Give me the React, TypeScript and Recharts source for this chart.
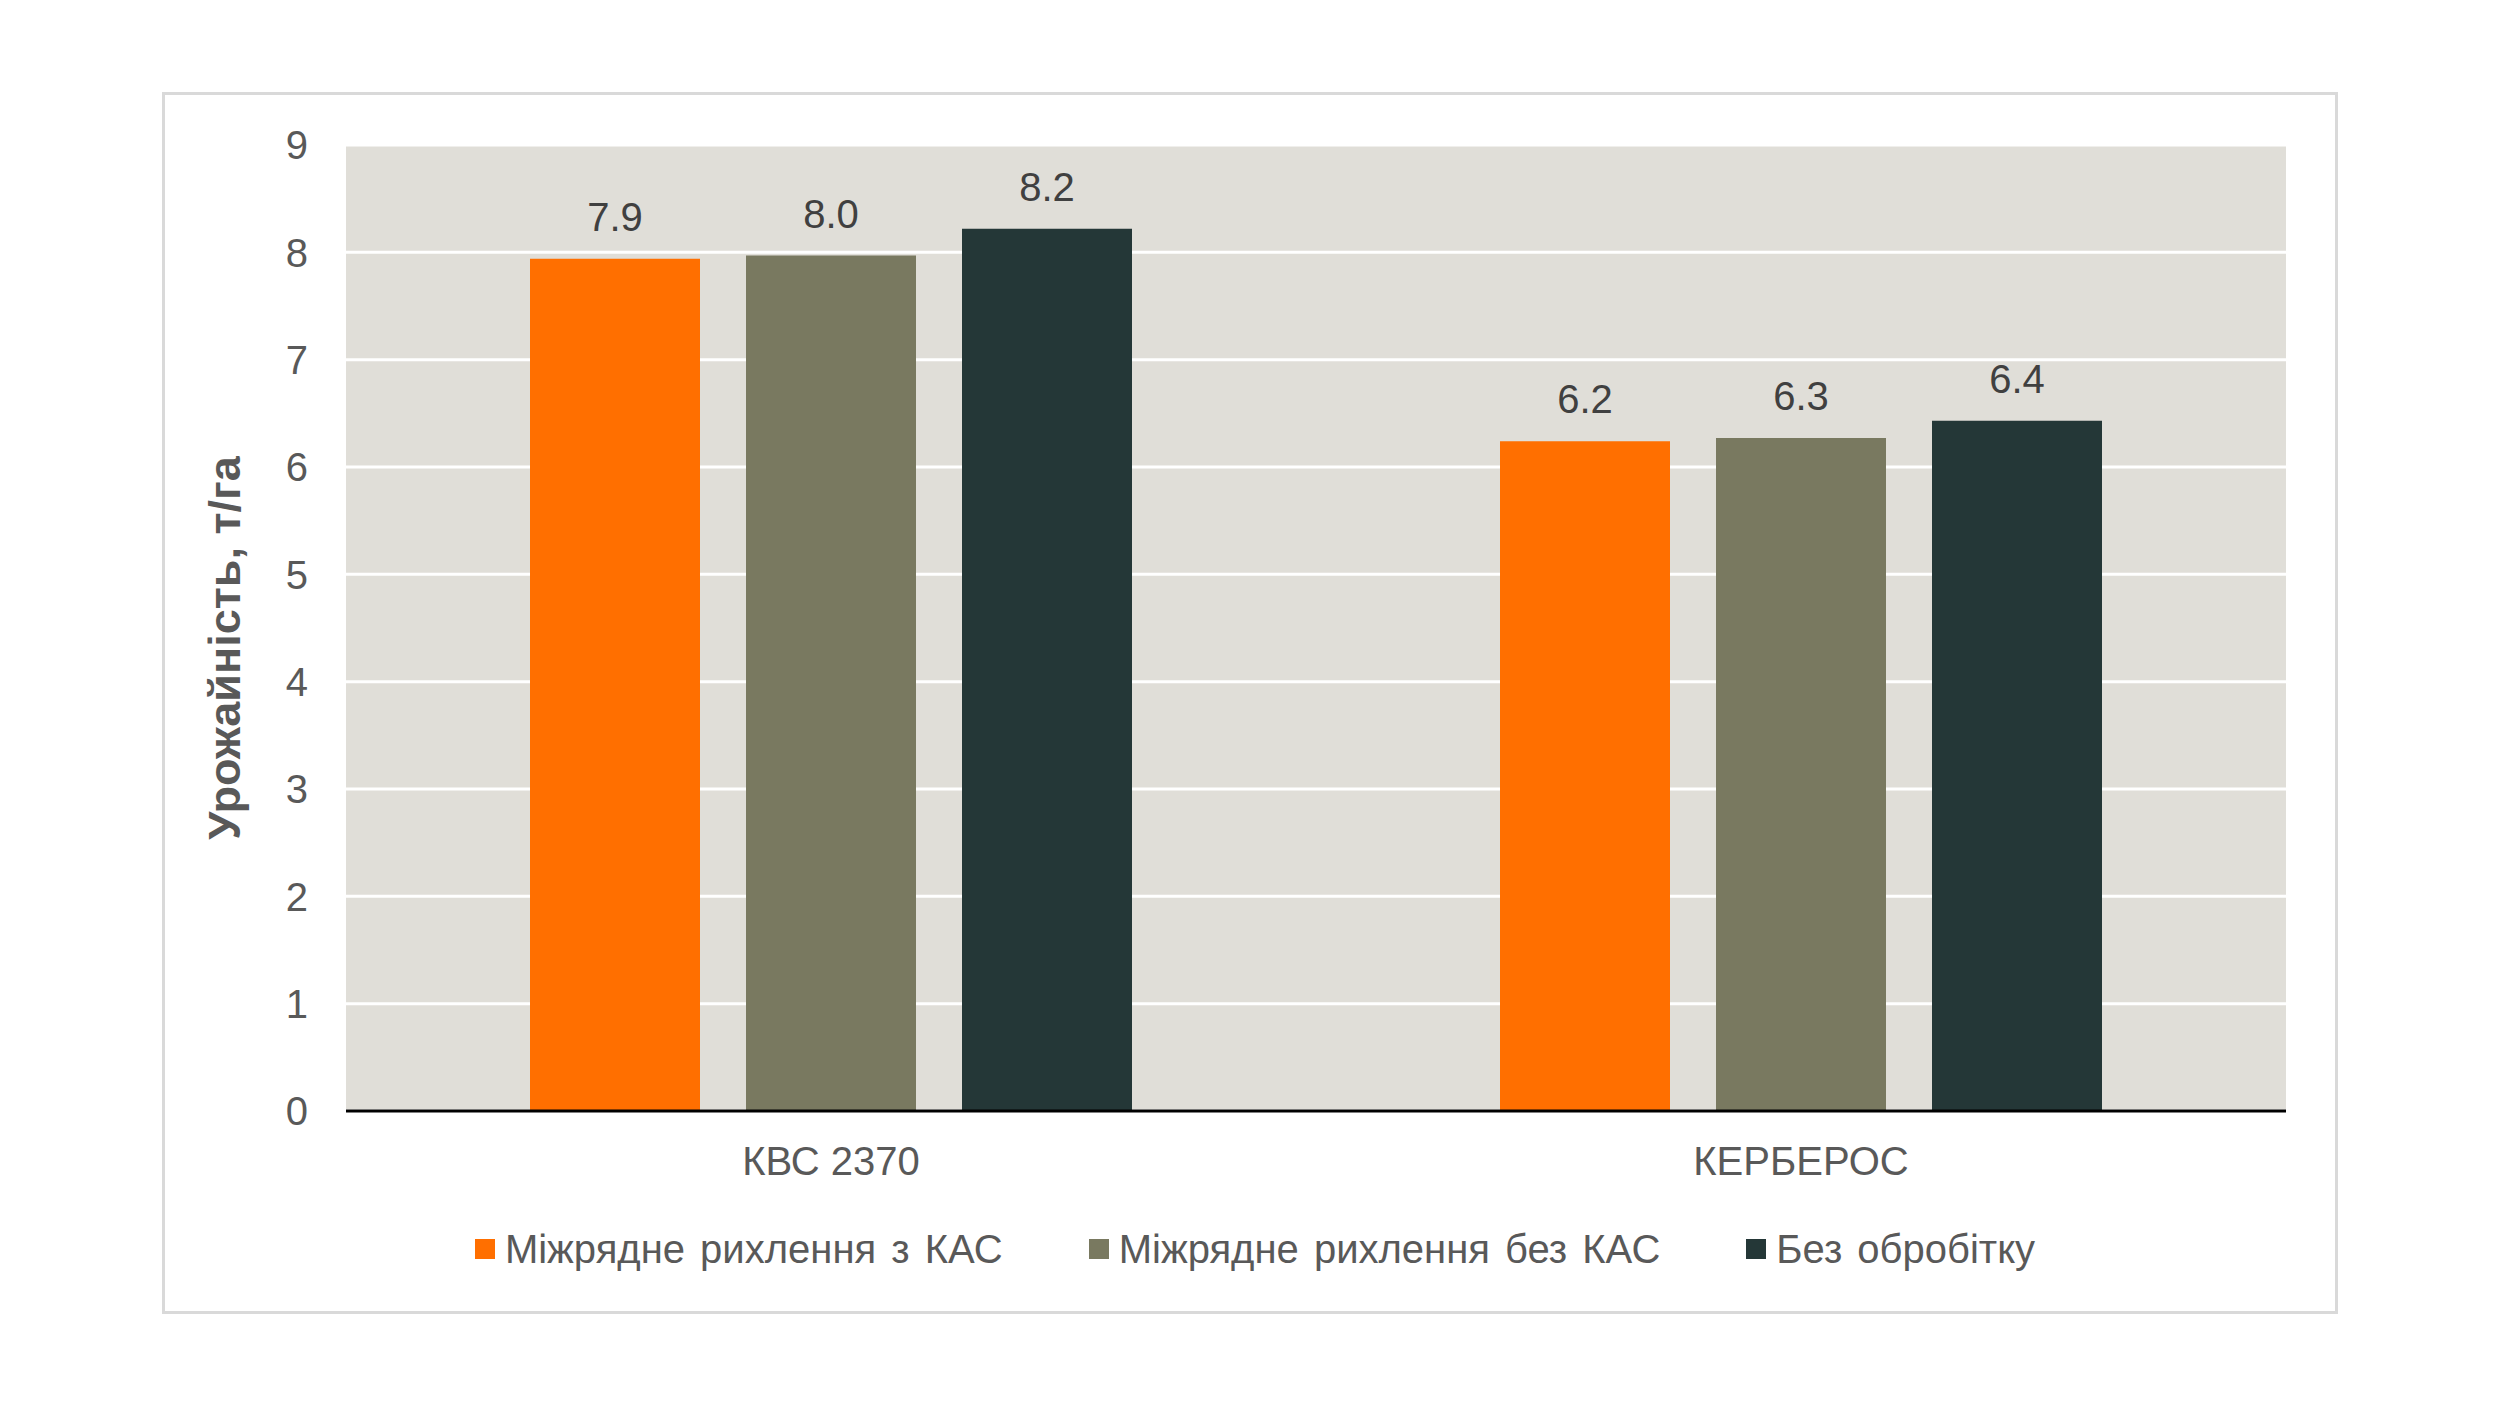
import React from 'react';
import { Bar, BarChart, CartesianGrid, XAxis, YAxis, LabelList, Label } from 'recharts';

// categories and series (t/ha)
const categories = ['КВС 2370', 'КЕРБЕРОС'];
const seriesNames = ['Міжрядне рихлення з КАС', 'Міжрядне рихлення без КАС', 'Без обробітку'];
const withKas = [7.94, 6.24];
const withoutKas = [7.97, 6.27];
const noTreatment = [8.22, 6.43];
const yTicks = [0, 1, 2, 3, 4, 5, 6, 7, 8, 9];

const COLORS = ['#ff6f00', '#797960', '#243737'];
const KEYS = ['withKas', 'withoutKas', 'noTreatment'];
const FONT = '"Liberation Sans", Arial, sans-serif';

const data = categories.map((name, i) => ({
  name,
  withKas: withKas[i],
  withoutKas: withoutKas[i],
  noTreatment: noTreatment[i],
}));

const fmt = (v: any) => Number(v).toFixed(1);

// Y axis title, placed left of the tick labels
const AxisTitle = () => (
  <text
    x={224}
    y={648}
    transform="rotate(-90 224 648)"
    textAnchor="middle"
    dominantBaseline="central"
    fontFamily={FONT}
    fontSize={45}
    fontWeight="bold"
    fill="#595959"
  >
    Урожайність, т/га
  </text>
);

const ChartLegend = () => (
  <div
    style={{
      position: 'absolute',
      left: 0,
      top: 1229,
      width: 2510,
      display: 'flex',
      justifyContent: 'center',
      alignItems: 'center',
      fontFamily: FONT,
      fontSize: 40,
      lineHeight: '40px',
      color: '#595959',
    }}
  >
    {seriesNames.map((s, i) => (
      <div key={s} style={{ display: 'flex', alignItems: 'center', marginRight: i < seriesNames.length - 1 ? 86 : 0 }}>
        <span style={{ width: 20, height: 20, background: COLORS[i], marginRight: 10, display: 'inline-block' }} />
        <span style={{ wordSpacing: 4, whiteSpace: 'nowrap' }}>{s}</span>
      </div>
    ))}
  </div>
);

export default function App() {
  return (
    <div style={{ position: 'absolute', left: 0, top: 0, width: 2500, height: 1408, background: '#fff' }}>
      <div
        style={{
          position: 'absolute',
          left: 162,
          top: 92,
          width: 2170,
          height: 1216,
          border: '3px solid #d9d9d9',
        }}
      />
      <div style={{ position: 'absolute', left: 0, top: 0 }}>
        <BarChart
          width={2500}
          height={1408}
          data={data}
          margin={{ top: 145, right: 214, left: 0, bottom: 197 }}
          barSize={170}
          barGap={46}
        >
          <CartesianGrid vertical={false} stroke="#ffffff" strokeWidth={3} fill="#e0ded8" />
          <XAxis
            dataKey="name"
            height={100}
            axisLine={{ stroke: '#000', strokeWidth: 3 }}
            tickLine={false}
            tickSize={0}
            tickMargin={36}
            tick={{ fontSize: 40, fill: '#595959', fontFamily: FONT }}
          />
          <YAxis
            type="number"
            domain={[0, 9]}
            ticks={yTicks}
            width={346}
            axisLine={false}
            tickLine={false}
            tickSize={0}
            tickMargin={38}
            tick={{ fontSize: 40, fill: '#595959', fontFamily: FONT }}
          >
            <Label content={<AxisTitle />} />
          </YAxis>
          {KEYS.map((k, i) => (
            <Bar key={k} dataKey={k} name={seriesNames[i]} fill={COLORS[i]} isAnimationActive={false}>
              <LabelList
                dataKey={k}
                position="top"
                offset={28}
                formatter={fmt}
                style={{ fontSize: 40, fill: '#404040', fontFamily: FONT }}
              />
            </Bar>
          ))}
        </BarChart>
      </div>
      <ChartLegend />
    </div>
  );
}
